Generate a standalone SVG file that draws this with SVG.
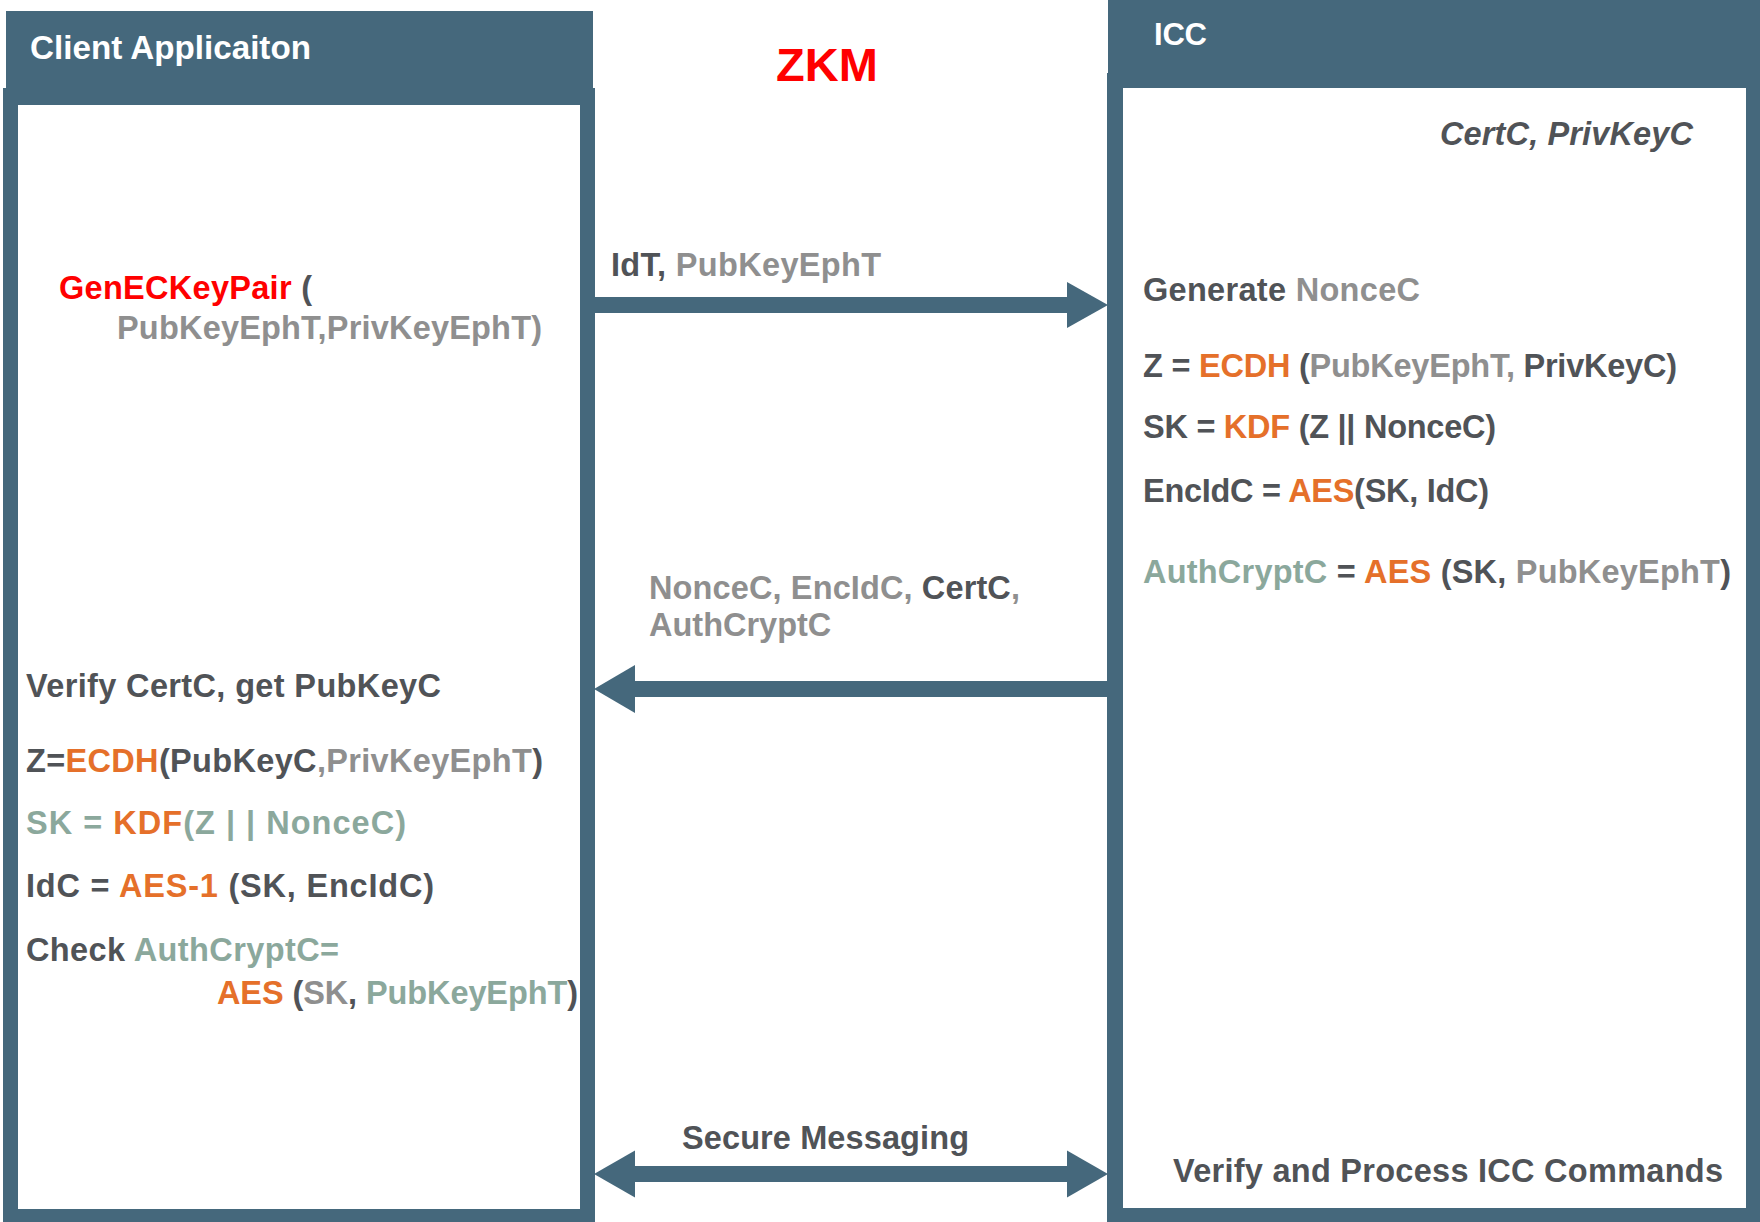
<svg xmlns="http://www.w3.org/2000/svg" width="1760" height="1222" viewBox="0 0 1760 1222">
  <style>
    .frame { fill: #45687C; }
    .inner { fill: #FFFFFF; }
    .conn { fill: #45687C; }
    text { font-family: "Liberation Sans", Arial, sans-serif; font-weight: bold; font-size: 32.5px; }
    .hdr { font-size: 33px; fill: #FFFFFF; }
    .d { fill: #505357; }
    .g { fill: #8F8F8F; }
    .s { fill: #8BA89C; }
    .o { fill: #E5702A; }
    .r { fill: #FF0000; }
  </style>

  <rect x="0" y="0" width="1760" height="1222" fill="#FFFFFF"/>

  <!-- Client application lane -->
  <g id="client-app">
    <rect class="frame" x="3" y="88" width="592" height="1134"/>
    <rect class="frame" x="6" y="11" width="587" height="77"/>
    <rect class="inner" x="18" y="105" width="562" height="1104"/>
    <text class="hdr" x="30" y="59" textLength="281" lengthAdjust="spacingAndGlyphs">Client Applicaiton</text>
    <text x="59" y="299" textLength="253"><tspan class="r">GenECKeyPair</tspan><tspan class="d"> (</tspan></text>
    <text class="g" x="117" y="339" textLength="425">PubKeyEphT,PrivKeyEphT)</text>
    <text class="d" x="26" y="697" textLength="415">Verify CertC, get PubKeyC</text>
    <text x="26" y="772" textLength="517"><tspan class="d">Z=</tspan><tspan class="o">ECDH</tspan><tspan class="d">(PubKeyC</tspan><tspan class="g">,PrivKeyEphT</tspan><tspan class="d">)</tspan></text>
    <text x="26" y="834" textLength="380"><tspan class="s">SK = </tspan><tspan class="o">KDF</tspan><tspan class="s">(Z | | NonceC)</tspan></text>
    <text x="26" y="897" textLength="408"><tspan class="d">IdC = </tspan><tspan class="o">AES-1</tspan><tspan class="d"> (SK, EncIdC)</tspan></text>
    <text x="26" y="961" textLength="313"><tspan class="d">Check </tspan><tspan class="s">AuthCryptC=</tspan></text>
    <text x="217" y="1004" textLength="361"><tspan class="o">AES</tspan><tspan class="d"> (</tspan><tspan class="g">SK</tspan><tspan class="d">, </tspan><tspan class="s">PubKeyEphT</tspan><tspan class="d">)</tspan></text>
  </g>

  <!-- Middle title -->
  <g id="zkm">
    <text class="r" x="776" y="81" style="font-size:47px" textLength="102">ZKM</text>
  </g>

  <!-- ICC lane -->
  <g id="icc">
    <rect class="frame" x="1107" y="73" width="653" height="1149"/>
    <rect class="frame" x="1108" y="0" width="652" height="88"/>
    <rect class="inner" x="1123" y="88" width="623" height="1120"/>
    <text class="hdr" x="1154" y="45" style="font-size:31px" textLength="53">ICC</text>
    <text class="d" x="1440" y="145" style="font-style:italic" textLength="253">CertC, PrivKeyC</text>
    <text x="1143" y="301" textLength="277"><tspan class="d">Generate </tspan><tspan class="g">NonceC</tspan></text>
    <text x="1143" y="377" textLength="534"><tspan class="d">Z = </tspan><tspan class="o">ECDH</tspan><tspan class="d"> (</tspan><tspan class="g">PubKeyEphT,</tspan><tspan class="d"> PrivKeyC)</tspan></text>
    <text x="1143" y="438" textLength="353"><tspan class="d">SK = </tspan><tspan class="o">KDF</tspan><tspan class="d"> (Z || NonceC)</tspan></text>
    <text x="1143" y="502" textLength="346"><tspan class="d">EncIdC = </tspan><tspan class="o">AES</tspan><tspan class="d">(SK, IdC)</tspan></text>
    <text x="1143" y="583" textLength="588"><tspan class="s">AuthCryptC</tspan><tspan class="d"> = </tspan><tspan class="o">AES</tspan><tspan class="d"> (SK, </tspan><tspan class="g">PubKeyEphT</tspan><tspan class="d">)</tspan></text>
    <text class="d" x="1173" y="1182" textLength="550">Verify and Process ICC Commands</text>
  </g>

  <!-- Message arrows between the lanes -->
  <g id="connectors">
    <g id="msg-idt">
      <rect class="conn" x="594" y="297" width="474" height="16"/>
      <polygon class="conn" points="1067,282 1108,305 1067,328"/>
      <text x="611" y="276" textLength="270"><tspan class="d">IdT,</tspan><tspan class="g"> PubKeyEphT</tspan></text>
    </g>
    <g id="msg-noncec">
      <rect class="conn" x="634" y="681" width="474" height="16"/>
      <polygon class="conn" points="635,665 594,689 635,713"/>
      <text x="649" y="599" textLength="371"><tspan class="g">NonceC, EncIdC, </tspan><tspan class="d">CertC</tspan><tspan class="g">,</tspan></text>
      <text class="g" x="649" y="636">AuthCryptC</text>
    </g>
    <g id="msg-secure">
      <rect class="conn" x="634" y="1166" width="434" height="16"/>
      <polygon class="conn" points="635,1150.5 594,1174 635,1197.5"/>
      <polygon class="conn" points="1067,1150.5 1108,1174 1067,1197.5"/>
      <text class="d" x="682" y="1149" textLength="287">Secure Messaging</text>
    </g>
  </g>
</svg>
